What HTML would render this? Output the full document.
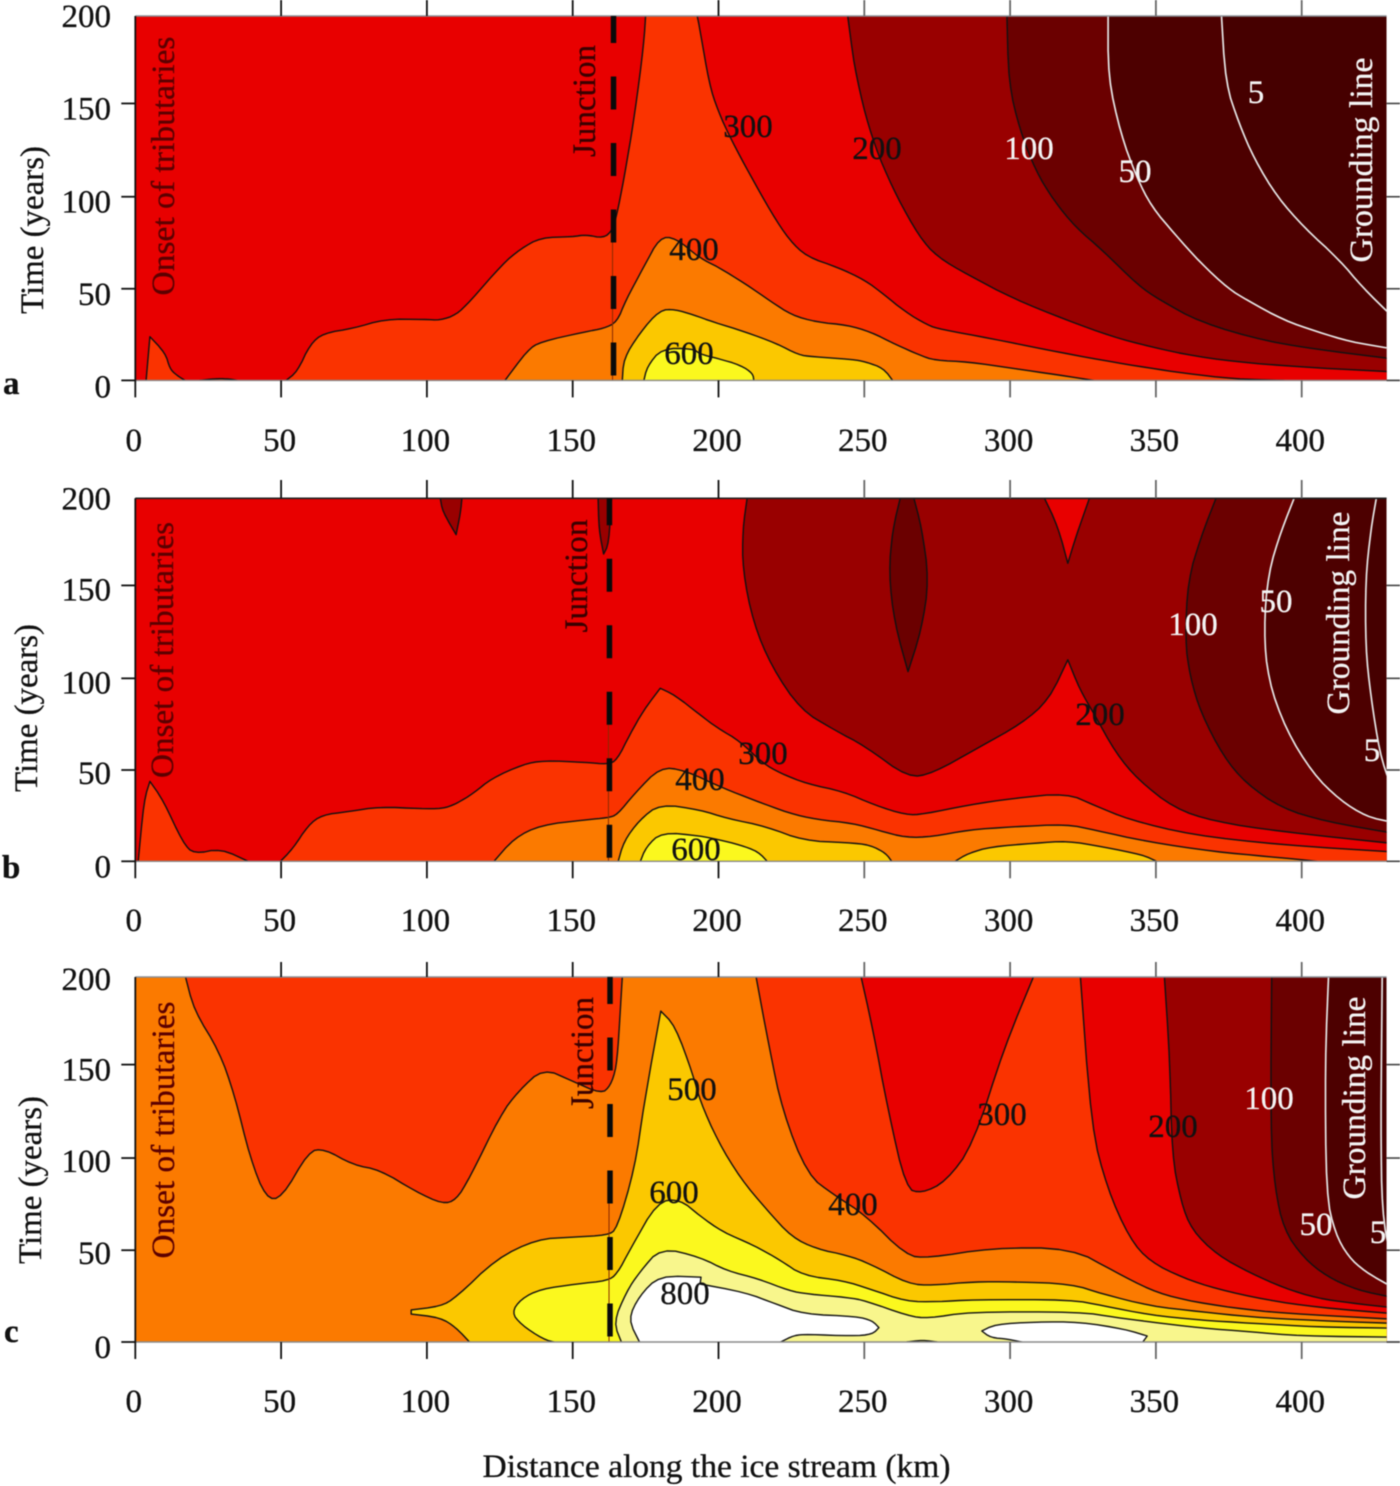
<!DOCTYPE html>
<html lang="en">
<head>
<meta charset="utf-8">
<title>Ice stream contour plots</title>
<style>
html,body{margin:0;padding:0;background:#fff;width:1400px;height:1486px;overflow:hidden}
svg{display:block;filter:blur(0.45px)}
text{font-family:"Liberation Serif",serif;font-size:33px;fill:#111;stroke:#111;stroke-width:.3px}
.w{fill:#f4f4f4;stroke:#f4f4f4}
.b{font-weight:bold}
.note{fill:#5c0000;stroke:#5c0000}
.j{fill:#3a0000;stroke:#3a0000}
</style>
</head>
<body>
<svg id="figure" xmlns="http://www.w3.org/2000/svg" width="1400" height="1486" viewBox="0 0 1400 1486">
  <defs>
    <clipPath id="clip-a"><rect x="135.3" y="16" width="1251.3" height="364.4"/></clipPath>
    <clipPath id="clip-b"><rect x="135.3" y="498.3" width="1251.3" height="363"/></clipPath>
    <clipPath id="clip-c"><rect x="135.3" y="977" width="1251.3" height="365"/></clipPath>
  </defs>

  <g id="panel-a"></g>
  <g id="panel-b"></g>
  <g id="panel-c"></g>

  <g>
    <text class="b" x="3" y="394">a</text>
    <text transform="translate(43,230) rotate(-90)" text-anchor="middle" textLength="168" lengthAdjust="spacingAndGlyphs">Time (years)</text>
    <text class="note" transform="translate(174,166) rotate(-90)" text-anchor="middle" textLength="259" lengthAdjust="spacingAndGlyphs">Onset of tributaries</text>
    <text class="j" transform="translate(595,101) rotate(-90)" text-anchor="middle" textLength="112" lengthAdjust="spacingAndGlyphs">Junction</text>
    <text class="w" transform="translate(1372,160) rotate(-90)" text-anchor="middle" textLength="205" lengthAdjust="spacingAndGlyphs">Grounding line</text>
    <text x="689" y="364" text-anchor="middle">600</text>
    <text x="694" y="260" text-anchor="middle">400</text>
    <text x="748" y="137" text-anchor="middle">300</text>
    <text x="877" y="159" text-anchor="middle">200</text>
    <text class="w" x="1029" y="159" text-anchor="middle">100</text>
    <text class="w" x="1135" y="182" text-anchor="middle">50</text>
    <text class="w" x="1256" y="103" text-anchor="middle">5</text>
  </g>

  <g>
    <text class="b" x="2" y="878">b</text>
    <text transform="translate(37,708) rotate(-90)" text-anchor="middle" textLength="168" lengthAdjust="spacingAndGlyphs">Time (years)</text>
    <text class="note" transform="translate(173,650) rotate(-90)" text-anchor="middle" textLength="256" lengthAdjust="spacingAndGlyphs">Onset of tributaries</text>
    <text class="j" transform="translate(587,576) rotate(-90)" text-anchor="middle" textLength="113" lengthAdjust="spacingAndGlyphs">Junction</text>
    <text class="w" transform="translate(1349,613) rotate(-90)" text-anchor="middle" textLength="203" lengthAdjust="spacingAndGlyphs">Grounding line</text>
    <text x="696" y="860" text-anchor="middle">600</text>
    <text x="700" y="790" text-anchor="middle">400</text>
    <text x="763" y="764" text-anchor="middle">300</text>
    <text x="1100" y="725" text-anchor="middle">200</text>
    <text class="w" x="1193" y="635" text-anchor="middle">100</text>
    <text class="w" x="1276" y="612" text-anchor="middle">50</text>
    <text class="w" x="1372" y="761" text-anchor="middle">5</text>
  </g>

  <g>
    <text class="b" x="4" y="1342">c</text>
    <text transform="translate(41,1180) rotate(-90)" text-anchor="middle" textLength="168" lengthAdjust="spacingAndGlyphs">Time (years)</text>
    <text class="note" transform="translate(174,1130) rotate(-90)" text-anchor="middle" textLength="257" lengthAdjust="spacingAndGlyphs">Onset of tributaries</text>
    <text class="j" transform="translate(593,1053) rotate(-90)" text-anchor="middle" textLength="112" lengthAdjust="spacingAndGlyphs">Junction</text>
    <text class="w" transform="translate(1365,1098) rotate(-90)" text-anchor="middle" textLength="203" lengthAdjust="spacingAndGlyphs">Grounding line</text>
    <text x="685" y="1304" text-anchor="middle">800</text>
    <text x="674" y="1203" text-anchor="middle">600</text>
    <text x="692" y="1100" text-anchor="middle">500</text>
    <text x="853" y="1215" text-anchor="middle">400</text>
    <text x="1002" y="1125" text-anchor="middle">300</text>
    <text x="1173" y="1137" text-anchor="middle">200</text>
    <text class="w" x="1269" y="1109" text-anchor="middle">100</text>
    <text class="w" x="1316" y="1235" text-anchor="middle">50</text>
    <text class="w" x="1378" y="1243" text-anchor="middle" clip-path="url(#clip-c)">5</text>
    <text x="716.5" y="1477" text-anchor="middle" textLength="468" lengthAdjust="spacingAndGlyphs">Distance along the ice stream (km)</text>
  </g>
</svg>

<script>
// ---- axis values ----
const xTickValues = [0, 50, 100, 150, 200, 250, 300, 350, 400];
const xTickLabels = ['0', '50', '100', '150', '200', '250', '300', '350', '400'];
const yTickYears = [0, 50.3, 100.8, 152, 200];
const yTickLabels = ['0', '50', '100', '150', '200'];
const junctionKm = { a: 164, b: 162.6, c: 162.8 };

// ---- panel a contours: [distance km, time years] ----
const a5 = [[372.5,200],[373.9,163],[378.5,141],[383.9,121],[391.6,100.7],[400.8,84],[413,66],[420.7,51.4],[430,36.7]];
const a50 = [[333.6,200],[333.6,166.5],[337.9,135.5],[343.3,111.7],[348.6,95.2],[356.3,80.6],[365.5,64.2],[374.7,50.5],[381.3,44],[393.9,33],[405.3,26.7],[416.7,21.2],[430,17.6]];
const a100 = [[298.9,200],[299.5,163],[303.4,137.2],[308.7,115.3],[314.9,98.9],[322.5,84],[331.7,71.4],[344,52],[351.5,44],[365,32],[388,21.3],[411,15.8],[430,12]];
const a200 = [[244.3,200],[246.6,172],[250.5,144.6],[255,122.7],[261.2,100.7],[268.9,78.8],[275,67.8],[285.7,57.8],[301,45],[319.5,33],[335,24],[348,18.5],[364,13],[382.4,9.4],[405.3,6.8],[430,4.8]];
const a300Bump1 = [[3.7,0],[5,24],[10.3,15],[11.8,6.6],[14,3],[17,0]];
const a300Bump2 = [[22,0],[26,0.7],[29.4,1],[33,0.6],[35,0]];
const a300Left = [[51.7,0],[55.5,4.7],[60,20],[64.7,26],[74.7,28.5],[85.4,33.6],[99.2,33.5],[104.6,33],[110,36],[114.6,43],[126,64],[132,72],[139,78.4],[150,78.8],[154.4,80],[160.6,78],[163.6,82.5],[165,90],[167.5,110],[171.3,146],[174.4,185],[175,200]];
const a300Right = [[192.7,200],[193.7,192],[196.8,163],[199.8,148],[204.4,132],[210.6,113.5],[218.3,91.6],[224.3,77],[230.4,67.8],[241,62],[250.2,55],[256.3,47.7],[264,37.7],[271.7,30.3],[276.3,28],[293.4,23],[311.8,17],[331.7,11],[348,6.7],[359.5,4],[376.7,0.8],[394,0]];
const a400 = [[126.8,0],[134.5,16.6],[139,21.2],[154.4,26.7],[160.6,28.5],[165.2,32],[168.2,44],[174.4,62.4],[179.8,78.4],[185.1,78.4],[193.7,67],[199.8,62.3],[209,53.2],[218.3,43],[225.2,35.8],[233.6,32],[244.3,30.3],[252,26.7],[261.2,19.4],[268.9,13.9],[274.2,11],[285.7,10.2],[301,6.6],[316.4,3],[328.7,0]];
const a500 = [[167,0],[167.5,12],[172.9,25.8],[179.8,38.6],[185.1,39],[191.3,36],[198.3,32],[209,26.7],[219.8,20.3],[227.5,14],[232,13],[245.9,11.5],[250.5,10.2],[256.6,6.6],[259.7,0]];
const a600 = [[174.4,0],[175.5,7.5],[180.5,17.5],[191.2,17.5],[193.7,14.4],[199.8,12],[207.5,8.4],[211.8,3.8],[212.1,0]];

// ---- panel b contours ----
const b5 = [[425.6,200],[423.7,182.6],[421.9,155],[421.9,118.3],[423.7,90.7],[426.8,59.5],[430,43.9]];
const b50 = [[397.4,200],[393.1,182.6],[388.5,158.7],[387,127.5],[388.5,100],[394.6,72.4],[403.8,48.5],[413,33.8],[422.2,24.6],[430,21.9]];
const b100 = [[370.6,200],[365.5,179],[361,155],[360,122],[361.7,101.7],[365.5,81.5],[373.2,57.7],[380.8,43],[393.1,29.2],[408.4,21.9],[430,15.8]];
const b100Lens = [[262.3,200],[259.7,182.6],[258.4,158.7],[260.4,131],[265,104.5],[269.6,127.5],[272.2,155],[269.6,184.4],[267,200]];
const b200 = [[209.8,200],[208.3,182.6],[208.3,160.5],[212,131],[218.3,107],[228.2,83.4],[239.7,72.4],[250.5,63.2],[265,46],[273.5,48.5],[288.8,62.3],[304.1,76],[313.3,89],[319.8,111],[324,94.4],[328.7,81.5],[336.3,59.5],[344,44.8],[356.3,29.2],[370,21.9],[393.1,16.3],[430,10]];
const b200Notch = [[311.8,200],[316.4,184.4],[319.8,164.2],[322.6,179],[327.2,200]];
const b200Patch1 = [[104.6,200],[105.4,192.7],[110,180],[111.5,191.7],[112,200]];
const b200Patch2 = [[158.7,200],[159,182.6],[160.6,169.3],[162.4,175],[163.3,200]];
const b300Bump = [[1,0],[3,33.8],[5,44],[9.5,33.8],[16.4,10],[20.2,4],[29.4,7],[38.7,0]];
const b300 = [[49.8,0],[54,7],[59.4,20],[64,25.5],[73,27.4],[83.9,30],[97.7,29],[105.4,29],[110,31.6],[116,37.5],[122.2,45.7],[133,53.4],[139.9,55.5],[154.4,54.5],[162,53.4],[165.2,55.8],[169.8,70.5],[174.4,83.4],[180,95.3],[185,91.6],[193.7,80.6],[199.8,73.3],[207.5,66],[215.2,54],[221.3,48.5],[230.5,42.6],[242.8,38.4],[253.5,31],[264.3,25.5],[270.4,26],[285.7,31],[301,34.7],[319.5,37.5],[328.7,31],[341,22.8],[362.4,14.5],[393.1,9],[430,5.3]];
const b400 = [[123,0],[129.9,12.7],[139,20],[154.4,22.8],[162,24],[165.2,25.5],[171.3,37.5],[180,51.8],[188.2,50.3],[202,40],[212,33.8],[224.4,26.4],[233.6,23],[245.9,21],[255,17],[264.3,13],[273.5,13.6],[285.7,17.3],[301,19],[319.5,20.4],[328.7,17.3],[347,10.8],[370,5.3],[388.5,2.6],[405.4,0]];
const b500Lobe1 = [[165.6,0],[167.5,10.8],[172.9,22.8],[180,31.6],[193.7,28.3],[202.9,23.7],[216.7,19],[229,11.4],[244.3,10.3],[252,9],[257.4,4.4],[259.4,0]];
const b500Lobe2 = [[281.1,0],[285.7,4.4],[293.4,8],[308.7,10],[319.5,11.2],[331.7,8],[345.6,3.5],[350.2,0]];
const b600 = [[173.2,0],[175.2,8],[180.5,16],[193.7,14],[199.8,12],[207.5,9],[213.6,5.3],[216.7,0]];

// ---- panel c contours ----
const c5 = [[427.6,200],[427.1,117],[427.6,71.3],[430,49.3]];
const c50 = [[409.2,200],[408,154],[408.4,80.5],[411.5,59.5],[416,46.7],[421.8,38.5],[430,31]];
const c100 = [[389.7,200],[389.3,117.3],[390.8,84.2],[393.9,61.4],[400.7,46],[408.7,35.8],[419,28.5],[430,24.8]];
const c200 = [[352.9,200],[354.8,154],[355.5,102.6],[358.6,76.8],[362.3,61.4],[371,47.7],[382.4,37.8],[393.9,29.6],[405.3,24],[416.7,21.4],[430,19]];
const c300 = [[324.1,200],[327.9,117.3],[333.3,84.2],[341,56.6],[348,44],[359.5,35],[371,29],[388,23],[405.3,19],[430,15.7]];
const c300Hole = [[248.9,200],[252.8,172.4],[258.2,126.5],[264.3,84.2],[269.6,81.4],[278,87.9],[287.3,108],[298,161.4],[308,200]];
const c400Left = [[17.2,200],[20.2,181.6],[28.7,159.6],[34,135.7],[39.4,100.7],[44.8,78.7],[50.2,78.7],[59.4,104.4],[64.7,105.9],[74.7,97],[83.9,94.3],[96.2,82.4],[105.4,75.6],[110,77.8],[114.6,89.7],[125.3,124.6],[131.4,137.5],[139.9,150],[149.8,143],[159.8,136],[162.9,140.3],[165,150.4],[166,172.4],[167,200]];
const c400Right = [[212.9,200],[217.6,159.6],[222,126.4],[230.5,91.5],[239.7,80.5],[250.4,69.5],[264.3,47.4],[272,46],[293.4,51.5],[321,51.5],[336.3,38.2],[348,28.5],[359.5,23],[376.7,18.6],[393.9,15.7],[430,12.6]];
const c500 = [[114.6,0],[110,7.9],[104.6,13.4],[94.6,15.3],[94.6,17.6],[104.6,19.5],[110,24.4],[123.8,45.6],[137.6,56.3],[149.8,57.5],[162,58.5],[165.2,62],[171.3,95.2],[174.4,130],[180.2,181.3],[185.1,173.4],[191.2,146.7],[193.7,132],[199.8,110],[207.5,89.7],[216.7,72.2],[225.1,57.5],[233.6,51],[244.3,47.4],[252,42.8],[265.1,31.8],[273.5,31],[287.3,33],[301,33],[321,31.8],[331.7,26.3],[348,19.7],[365.2,16.6],[382.4,13.7],[405.3,11.7],[430,10.3]];
const c600 = [[143.7,0],[139.9,1.5],[132.2,9.7],[129.1,16.2],[132.2,23.5],[139,29],[151.4,31.8],[162,33.6],[165.2,37.3],[169.8,51],[179,76.8],[186.7,78.3],[193.7,69],[201.4,60.3],[212.1,53],[221.3,44.7],[229,36.4],[242.8,33.6],[252,29],[264.3,22.2],[275,22],[287.3,23.2],[321,23.2],[331.7,19.9],[348,14.8],[365.2,12],[382.4,10.3],[405.3,8.2],[430,7.6]];
const c700 = [[166.7,0],[164,10.7],[168.3,27.2],[172.9,38.2],[180.2,51.7],[193.7,46.5],[202.9,39],[213.7,34.6],[224.4,28],[230.5,26.3],[244.3,24.4],[250.4,22.6],[265,14.3],[272,12.9],[285.7,16.5],[324,16.5],[336,13.5],[348,11],[365.2,7.7],[382.4,5.6],[399.6,3.3],[430,2.7]];
const c700Hole = [[264.5,0],[270,1],[275,0]];
const c800Lobe1 = [[172.9,0],[169,12.5],[172.9,25.4],[179.8,36.4],[194,35.5],[193.7,31.8],[209,27.2],[219.8,20.8],[229,15.3],[247.4,14],[252.8,11.6],[255,7.9],[252.8,4.2],[245.9,3.3],[230.5,4.2],[225.9,3.7],[221.3,0]];
const c800Lobe2 = [[304.1,0],[299.5,1.5],[293.3,2.4],[290.3,6],[294.9,9.7],[308.7,11],[324,11],[339.4,7],[347,3.3],[345.5,0]];

// ---- styling and geometry (kept apart from the data) ----
const bandColor = {0:'#460000',5:'#4d0000',50:'#6b0000',100:'#990000',200:'#e80000',300:'#fa3300',400:'#fb7a00',500:'#fbc800',600:'#fbf81e',700:'#f8f68c',800:'#ffffff'};
const xLeft = 135.3, xPerKm = 2.916, xEnd = 1386.6, kmMax = 430;
const panelGeo = {
  a: { top: 16, base: 380.4, tickTop: 0, labelBase: 451, frame: '#8a9096', labelDy: [17, 16, 16, 16, 11] },
  b: { top: 498.3, base: 861.3, tickTop: 480, labelBase: 931, frame: '#222222', labelDy: [16, 14, 15, 15, 11] },
  c: { top: 977, base: 1342, tickTop: 962, labelBase: 1412, frame: '#8a9096', labelDy: [16, 14, 14, 16, 13] }
};
const SVGNS = 'http://www.w3.org/2000/svg';
function xScale(km) { return xLeft + km * xPerKm; }
function yScaleFor(id) {
  const g = panelGeo[id];
  return function (t) { return g.base - t * (g.base - g.top) / 200; };
}
function pointsToString(pts, yS) {
  return pts.map(function (p) { return xScale(p[0]).toFixed(1) + ',' + yS(p[1]).toFixed(1); }).join(' ');
}
// rounds gentle bends of a contour, leaving sharp cusps alone
function smoothOnce(pts) {
  if (pts.length < 3) return pts;
  const out = [pts[0]];
  for (let i = 1; i < pts.length - 1; i++) {
    const p = pts[i - 1], q = pts[i], r = pts[i + 1];
    const ux = (q[0] - p[0]) * xPerKm, uy = (q[1] - p[1]) * 1.82;
    const vx = (r[0] - q[0]) * xPerKm, vy = (r[1] - q[1]) * 1.82;
    const lens = Math.hypot(ux, uy) * Math.hypot(vx, vy);
    const cosTurn = lens > 0 ? (ux * vx + uy * vy) / lens : 1;
    if (cosTurn < 0.3) {
      out.push(q);
    } else {
      out.push([q[0] - 0.25 * (q[0] - p[0]), q[1] - 0.25 * (q[1] - p[1])]);
      out.push([q[0] + 0.25 * (r[0] - q[0]), q[1] + 0.25 * (r[1] - q[1])]);
    }
  }
  out.push(pts[pts.length - 1]);
  return out;
}
function smooth(pts) { return smoothOnce(smoothOnce(pts)); }
function addLine(parent, x1, y1, x2, y2, color, width) {
  const l = document.createElementNS(SVGNS, 'line');
  l.setAttribute('x1', x1);
  l.setAttribute('y1', y1);
  l.setAttribute('x2', x2);
  l.setAttribute('y2', y2);
  l.setAttribute('stroke', color);
  l.setAttribute('stroke-width', width);
  parent.appendChild(l);
  return l;
}
// closure: 'bottom' closes the ends directly, 'right' adds the lower right corner,
// 'left' wraps the upper-left, lower-right and lower-left corners
function band(id, plot, level, rawLines, closure, lineColor, name) {
  const yS = yScaleFor(id);
  const lines = rawLines.map(smooth);
  let pts = [];
  lines.forEach(function (ln) { pts = pts.concat(ln); });
  if (closure === 'left') pts = [[0, 200]].concat(pts, [[kmMax, 0], [0, 0]]);
  if (closure === 'right') pts = pts.concat([[kmMax, 0]]);
  const poly = document.createElementNS(SVGNS, 'polygon');
  poly.setAttribute('points', pointsToString(pts, yS));
  poly.setAttribute('fill', bandColor[level]);
  
  
  plot.appendChild(poly);
  lines.forEach(function (ln) {
    const pl = document.createElementNS(SVGNS, 'polyline');
    pl.setAttribute('points', pointsToString(ln, yS));
    pl.setAttribute('fill', 'none');
    pl.setAttribute('stroke', lineColor);
    pl.setAttribute('stroke-width', lineColor === '#111111' ? 1.4 : 1.7);
    pl.setAttribute('stroke-linejoin', 'round');
    
    
    plot.appendChild(pl);
  });
}
function drawAxes(id, root) {
  const g = panelGeo[id], yS = yScaleFor(id);
  const axes = document.createElementNS(SVGNS, 'g');
  
  
  addLine(axes, xLeft, g.top, xEnd, g.top, g.frame, 1.6);
  addLine(axes, xLeft, g.base, 1400, g.base, '#8a8a8a', 1.4);
  addLine(axes, xLeft, g.top, xLeft, g.base + 17, '#111111', 1.8);
  xTickValues.forEach(function (v, i) {
    const px = xScale(v);
    const col = v <= 200 ? '#111111' : '#666666';
    if (v > 0) {
      const topTick = addLine(axes, px, g.tickTop, px, g.top, col, 1.8);
      
      
      const botTick = addLine(axes, px, g.base, px, g.base + 17, col, 1.8);
      
      
    }
    const t = document.createElementNS(SVGNS, 'text');
    t.setAttribute('x', px - 1.5);
    t.setAttribute('y', g.labelBase);
    t.setAttribute('text-anchor', 'middle');
    
    
    t.textContent = xTickLabels[i];
    axes.appendChild(t);
  });
  yTickYears.forEach(function (v, i) {
    const py = yS(v);
    if (v < 200) {
      const leftTick = addLine(axes, xLeft - 14, py, xLeft, py, '#111111', 1.8);
      
      
      const rightTick = addLine(axes, xEnd, py, 1400, py, '#444444', 1.6);
      
      
    }
    const t = document.createElementNS(SVGNS, 'text');
    t.setAttribute('x', 111);
    t.setAttribute('y', py + g.labelDy[i]);
    t.setAttribute('text-anchor', 'end');
    
    
    t.textContent = yTickLabels[i];
    axes.appendChild(t);
  });
  root.appendChild(axes);
}
function drawJunction(id, plot, root) {
  const g = panelGeo[id], px = xScale(junctionKm[id]);
  const thin = addLine(plot, px - 1, g.top + (g.base - g.top) * 0.6, px - 1, g.base, '#8a2a00', 1);
  
  
  const dash = addLine(root, px, g.top, px, g.base - 2, '#0a0a0a', 5.5);
  dash.setAttribute('stroke-dasharray', '33 33.5');
  dash.setAttribute('stroke-dashoffset', '6');
  
  
}
function startPanel(id) {
  const root = document.getElementById('panel-' + id);
  const g = panelGeo[id];
  const plot = document.createElementNS(SVGNS, 'g');
  plot.setAttribute('clip-path', 'url(#clip-' + id + ')');
  
  
  const bg = document.createElementNS(SVGNS, 'rect');
  bg.setAttribute('x', xLeft);
  bg.setAttribute('y', g.top);
  bg.setAttribute('width', xEnd - xLeft);
  bg.setAttribute('height', g.base - g.top);
  bg.setAttribute('fill', bandColor[0]);
  
  
  plot.appendChild(bg);
  root.appendChild(plot);
  return { root: root, plot: plot };
}
const BLACK = '#111111', WHITE = '#e6e6e6';

// Panel a
(function () {
  const p = startPanel('a');
  band('a', p.plot, 5, [a5], 'left', WHITE, 'band-5-a');
  band('a', p.plot, 50, [a50], 'left', WHITE, 'band-50-a');
  band('a', p.plot, 100, [a100], 'left', BLACK, 'band-100-a');
  band('a', p.plot, 200, [a200], 'left', BLACK, 'band-200-a');
  band('a', p.plot, 300, [a300Bump1], 'bottom', BLACK, 'band-300-bump-a');
  band('a', p.plot, 300, [a300Bump2], 'bottom', BLACK, 'band-300-small-bump-a');
  band('a', p.plot, 300, [a300Left, a300Right], 'bottom', BLACK, 'band-300-a');
  band('a', p.plot, 400, [a400], 'bottom', BLACK, 'band-400-a');
  band('a', p.plot, 500, [a500], 'bottom', BLACK, 'band-500-a');
  band('a', p.plot, 600, [a600], 'bottom', BLACK, 'band-600-a');
  drawAxes('a', p.root);
  drawJunction('a', p.plot, p.root);
})();

// Panel b
(function () {
  const p = startPanel('b');
  band('b', p.plot, 5, [b5], 'left', WHITE, 'band-5-b');
  band('b', p.plot, 50, [b50], 'left', WHITE, 'band-50-b');
  band('b', p.plot, 100, [b100], 'left', BLACK, 'band-100-b');
  band('b', p.plot, 50, [b100Lens], 'bottom', BLACK, 'lens-below-100-b');
  band('b', p.plot, 200, [b200], 'left', BLACK, 'band-200-b');
  band('b', p.plot, 200, [b200Notch], 'bottom', BLACK, 'notch-200-b');
  band('b', p.plot, 100, [b200Patch1], 'bottom', BLACK, 'patch-below-200-first-b');
  band('b', p.plot, 100, [b200Patch2], 'bottom', BLACK, 'patch-below-200-second-b');
  band('b', p.plot, 300, [b300Bump], 'bottom', BLACK, 'band-300-bump-b');
  band('b', p.plot, 300, [b300], 'right', BLACK, 'band-300-b');
  band('b', p.plot, 400, [b400], 'bottom', BLACK, 'band-400-b');
  band('b', p.plot, 500, [b500Lobe1], 'bottom', BLACK, 'band-500-lobe-first-b');
  band('b', p.plot, 500, [b500Lobe2], 'bottom', BLACK, 'band-500-lobe-second-b');
  band('b', p.plot, 600, [b600], 'bottom', BLACK, 'band-600-b');
  drawAxes('b', p.root);
  drawJunction('b', p.plot, p.root);
})();

// Panel c
(function () {
  const p = startPanel('c');
  band('c', p.plot, 5, [c5], 'left', WHITE, 'band-5-c');
  band('c', p.plot, 50, [c50], 'left', WHITE, 'band-50-c');
  band('c', p.plot, 100, [c100], 'left', BLACK, 'band-100-c');
  band('c', p.plot, 200, [c200], 'left', BLACK, 'band-200-c');
  band('c', p.plot, 300, [c300], 'left', BLACK, 'band-300-c');
  band('c', p.plot, 200, [c300Hole], 'bottom', BLACK, 'hole-below-300-c');
  band('c', p.plot, 400, [c400Left, c400Right], 'left', BLACK, 'band-400-c');
  band('c', p.plot, 500, [c500], 'right', BLACK, 'band-500-c');
  band('c', p.plot, 600, [c600], 'right', BLACK, 'band-600-c');
  band('c', p.plot, 700, [c700], 'right', BLACK, 'band-700-c');
  band('c', p.plot, 600, [c700Hole], 'bottom', BLACK, 'hole-below-700-c');
  band('c', p.plot, 800, [c800Lobe1], 'bottom', BLACK, 'band-800-lobe-first-c');
  band('c', p.plot, 800, [c800Lobe2], 'bottom', BLACK, 'band-800-lobe-second-c');
  drawAxes('c', p.root);
  drawJunction('c', p.plot, p.root);
})();
</script>
</body>
</html>
